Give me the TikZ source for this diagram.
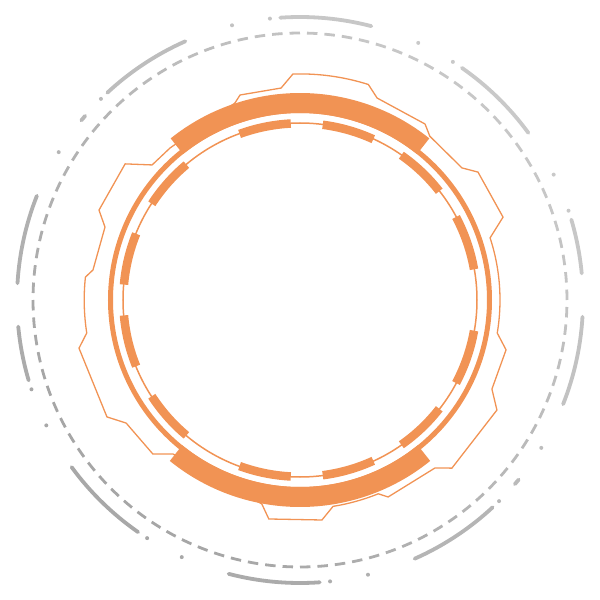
\documentclass[tikz,border=0pt]{standalone}
\usepackage{tikz}
\usetikzlibrary{arrows}
\definecolor{hudorange}{RGB}{241,147,84}
\tikzset{
	gear_line/.style = {
		draw=hudorange,
		line width=1.3pt,
		line join=miter
	},
	ring_thin/.style = {
		draw=hudorange,
		line width=1.5pt
	},
	ring_mid/.style = {
		draw=hudorange,
		line width=5pt
	},
	ring_band/.style = {
		draw=hudorange,
		line width=20pt
	},
	ring_dash/.style = {
		draw=hudorange,
		line width=8.5pt
	},
	hud_arc/.style = {
		line width=3.8pt,
		line cap=round
	},
	hud_dash/.style = {
		line width=2.8pt
	},
}
\begin{document}
\begin{tikzpicture}[x=1pt, y=1pt]
\useasboundingbox (-300,-300) rectangle (300,300);
\foreach \i in {0,...,95} {
	\pgfmathsetmacro\sa{\i*3.75}
	\pgfmathsetmacro\ea{\sa+2.25}
	\pgfmathtruncatemacro\shade{29-7*cos(\sa+1-45)}
	\draw[hud_dash, draw=black!\shade] (\sa:267) arc[start angle=\sa, end angle=\ea, radius=267];
}
\foreach \rot in {0,180} {
	\foreach \a/\b in {5.4/16.5, 36.2/55.1, 75.4/94, 113.9/132.9, 158.4/176.6} {
		\pgfmathsetmacro\sa{\a+\rot}
		\pgfmathsetmacro\ea{\b+\rot}
		\pgfmathtruncatemacro\shade{28-7*cos((\sa+\ea)/2-45)}
		\draw[hud_arc, draw=black!\shade] (\sa:283) arc[start angle=\sa, end angle=\ea, radius=283];
	}
	\foreach \a in {18.4, 26.3, 57.3, 65.3, 96.1, 103.9, 134.7, 148.5} {
		\pgfmathsetmacro\sa{\a+\rot}
		\pgfmathtruncatemacro\shade{28-7*cos(\sa-45)}
		\fill[black!\shade] (\sa:283) circle (2);
	}
	\pgfmathsetmacro\sa{139.4+\rot}
	\pgfmathsetmacro\ea{140.6+\rot}
	\pgfmathtruncatemacro\shade{28-7*cos(\sa-45)}
	\draw[hud_arc, draw=black!\shade] (\sa:283) arc[start angle=\sa, end angle=\ea, radius=283];
}
\draw[gear_line] (91.8:226.1) arc[start angle=91.8, end angle=72.4, radius=226.1]
	-- (69.1:216.2) -- (54.6:215.9) -- (51.6:209) -- (39.2:209) -- (35.7:219.2) -- (22.2:219.3)
	-- (18.1:200) arc[start angle=18.1, end angle=-9.5, radius=200]
	-- (-13.6:212) -- (-24.9:211.6) -- (-29.2:225.6) -- (-47.9:226.6) -- (-51.2:215.5) -- (-65.9:215.8)
	-- (-68:209) arc[start angle=-68, end angle=-80.9, radius=209]
	-- (-84.3:221.1) -- (-98.1:221.2) -- (-100.6:207.5) -- (-129.5:199.6)
	-- (-133.7:213) -- (-144.7:213) -- (-148.8:225.7) -- (-167.7:226.2)
	-- (-171.2:215.8) arc[start angle=-171.2, end angle=-186.1, radius=215.8]
	-- (171.75:209.2) -- (159.5:208.2) -- (155.9:220.2) -- (142.1:221.6) -- (137.6:200.3) -- (130.5:200)
	-- (108.3:207.4) -- (106.3:213.6) -- (95.1:212.8) -- cycle;
\draw[ring_mid] (0,0) circle (189.5);
\draw[ring_thin] (0,0) circle (177);
\foreach \a/\b in {10/28, 38/55, 65.5/82.6, 93/110, 130/147, 158/175} {
	\draw[ring_dash] (\a:176.7) arc[start angle=\a, end angle=\b, radius=176.7];
	\draw[ring_dash] (-\a:176.7) arc[start angle=-\a, end angle=-\b, radius=176.7];
}
\draw[ring_band] (51.3:197) arc[start angle=51.3, end angle=128.7, radius=197];
\draw[ring_band] (231:197) arc[start angle=231, end angle=309, radius=197];
\end{tikzpicture}
\end{document}
